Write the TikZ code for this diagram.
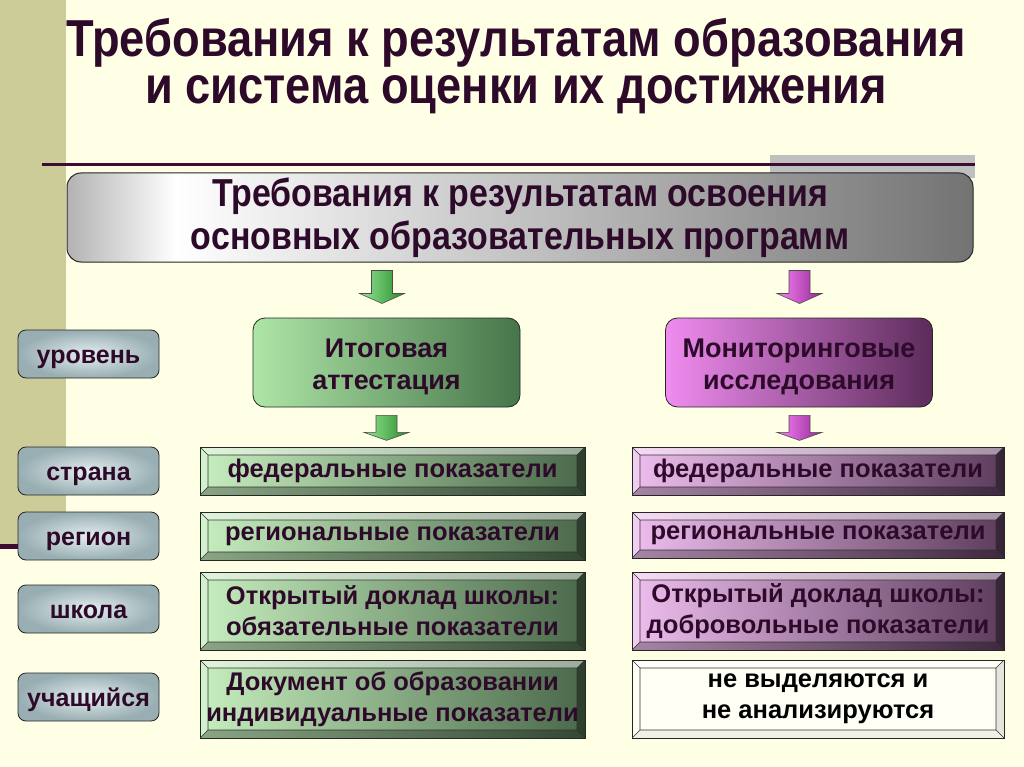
\documentclass[tikz,border=0pt]{standalone}
\usepackage{fontspec}
\setmainfont{Liberation Sans}
\newfontfamily\narrowfont[FakeStretch=0.87]{Liberation Sans}
\usetikzlibrary{calc}
\definecolor{bg}{HTML}{FFFFE6}
\definecolor{stripe}{HTML}{CCCC99}
\definecolor{plum}{HTML}{3D0C30}
\definecolor{txt}{HTML}{2E0A2A}
\definecolor{gl}{HTML}{C6EEBE}
\definecolor{gd}{HTML}{4A684A}
\definecolor{pl}{HTML}{EEBEEE}
\definecolor{pd}{HTML}{5C3C5C}
\definecolor{bl}{HTML}{E4EEF0}
\definecolor{bd}{HTML}{98AEB2}
\definecolor{mgl}{HTML}{AEE6A6}
\definecolor{mgd}{HTML}{46754A}
\definecolor{mpl}{HTML}{F08CF0}
\definecolor{mpd}{HTML}{5C2C5A}
\definecolor{agl}{HTML}{96E696}
\definecolor{agd}{HTML}{288C28}
\definecolor{apl}{HTML}{F582F5}
\definecolor{apd}{HTML}{962896}
\pgfdeclarehorizontalshading{topsh}{100bp}{color(0bp)=(black!30); color(25bp)=(black!30); color(31bp)=(white); color(75bp)=(black!55); color(100bp)=(black!55)}
\tikzset{
  bevelfaces/.style n args={4}{path picture={
    \path (path picture bounding box.north west) coordinate (pA)
          (path picture bounding box.north east) coordinate (pB)
          (path picture bounding box.south east) coordinate (pC)
          (path picture bounding box.south west) coordinate (pD);
    \path ([shift={(8pt,-8pt)}]pA) coordinate (qA)
          ([shift={(-8pt,-8pt)}]pB) coordinate (qB)
          ([shift={(-8pt,8pt)}]pC) coordinate (qC)
          ([shift={(8pt,8pt)}]pD) coordinate (qD);
    \fill[white,opacity=#1] (pA) -- (pB) -- (qB) -- (qA) -- cycle;
    \fill[white,opacity=#2] (pA) -- (qA) -- (qD) -- (pD) -- cycle;
    \fill[black,opacity=#3] (pD) -- (qD) -- (qC) -- (pC) -- cycle;
    \fill[black,opacity=#4] (pB) -- (pC) -- (qC) -- (qB) -- cycle;
    \draw[black!80,line width=0.6pt] (qA) rectangle (qC) (pA) -- (qA) (pB) -- (qB) (pC) -- (qC) (pD) -- (qD);
  }},
  bevel/.style={draw=black!85,line width=0.8pt,inner sep=0pt,align=center,text=txt,
    font=\fontsize{25.5}{31}\selectfont\bfseries},
  gbev/.style={bevel,left color=gl,right color=gd,minimum width=385pt,bevelfaces={0.45}{0.25}{0.3}{0.4}},
  pbev/.style={bevel,left color=pl,right color=pd,minimum width=372pt,bevelfaces={0.45}{0.25}{0.3}{0.4}},
  wbev/.style={bevel,fill=white!60!bg,text=black,minimum width=372pt,bevelfaces={0.3}{0.2}{0.06}{0.1}},
  level/.style={draw=black!85,line width=0.8pt,rounded corners=8pt,minimum width=141pt,minimum height=48pt,
    inner color=bl,outer color=bd,text=txt,text height=18pt,text depth=0pt,
    font=\fontsize{25}{30}\selectfont\bfseries},
  midbox/.style={draw=black!85,line width=0.8pt,rounded corners=12pt,minimum width=267pt,minimum height=89pt},
  midtext/.style={align=center,text=txt,font=\fontsize{27}{32}\selectfont\bfseries},
  pics/blockarrow/.style n args={4}{code={
    \draw[draw=black!70,line width=0.6pt,left color=#1,right color=#2]
      (-10.5,0) -- (10.5,0) -- (10.5,#3) -- (22.5,#3) -- (0,#4) -- (-22.5,#3) -- (-10.5,#3) -- cycle;
  }}
}
\begin{document}
\begin{tikzpicture}[x=1pt,y=-1pt]
\useasboundingbox (0,0) rectangle (1024,767);
\fill[bg] (0,0) rectangle (1024,767);
\fill[stripe] (0,0) rectangle (66,548);
\fill[plum] (0,544) rectangle (22,549);
\fill[black!25] (770,155) rectangle (975,178);
\draw[plum,line width=3pt] (42,165) -- (975,165);
% title
\node[anchor=base,text=txt,font=\narrowfont\fontsize{52}{52}\selectfont\bfseries] (t1) at (516,57) {Требования к результатам образования};
\node[anchor=base,text=txt,font=\narrowfont\fontsize{52}{52}\selectfont\bfseries] (t2) at (516,104) {и система оценки их достижения};
% top box
\node[draw=black!85,line width=1pt,rounded corners=14pt,shading=topsh,minimum width=906pt,minimum height=89pt,
  align=center,text=txt,font=\narrowfont\fontsize{39}{43}\selectfont\bfseries] (req) at (520,217.5)
  {Требования к результатам освоения\\основных образовательных программ};
% middle boxes
\node[midbox,left color=mgl,right color=mgd] (it) at (386.5,362.5) {};
\node[midtext] (itT) at ($(it.center)+(0,4)$) {Итоговая\\аттестация};
\node[midbox,left color=mpl,right color=mpd] (mon) at (799,362.5) {};
\node[midtext] (monT) at ($(mon.center)+(0,4)$) {Мониторинговые\\исследования};
% arrows
\pic at ($(req.south -| it.north)+(-4.5,8)$) {blockarrow={agl}{agd}{23}{33}};
\pic at ($(req.south -| mon.north)+(0.5,8)$) {blockarrow={apl}{apd}{23}{33}};
% levels
\node[level] (lv) at (88.5,354) {уровень};
\node[level] (l1) at (88.5,471) {страна};
\node[level] (l2) at (88.5,536) {регион};
\node[level] (l3) at (88.5,609) {школа};
\node[level] (l4) at (88.5,697) {учащийся};
% green column
\node[gbev,minimum height=48pt] (g1) at (392.5,471) {федеральные показатели};
\node[gbev,minimum height=48pt] (g2) at (392.5,536) {региональные показатели};
\node[gbev,minimum height=78pt] (g3) at (392.5,611) {Открытый доклад школы:\\обязательные показатели};
\node[gbev,minimum height=78pt] (g4) at (392.5,699) {Документ об образовании\\индивидуальные показатели};
% purple column
\node[pbev,minimum height=48pt] (p1) at (818,471) {федеральные показатели};
\node[pbev,minimum height=46pt] (p2) at (818,535) {региональные показатели};
\node[pbev,minimum height=78pt] (p3) at (818,611) {Открытый доклад школы:\\добровольные показатели};
\node[wbev,minimum height=78pt] (p4) at (818,699) {не выделяются и\\не анализируются};
\pic at ($(it.south)+(0,8)$) {blockarrow={agl}{agd}{17}{25}};
\pic at ($(mon.south)+(0.5,8)$) {blockarrow={apl}{apd}{17}{25}};
\end{tikzpicture}
\end{document}
